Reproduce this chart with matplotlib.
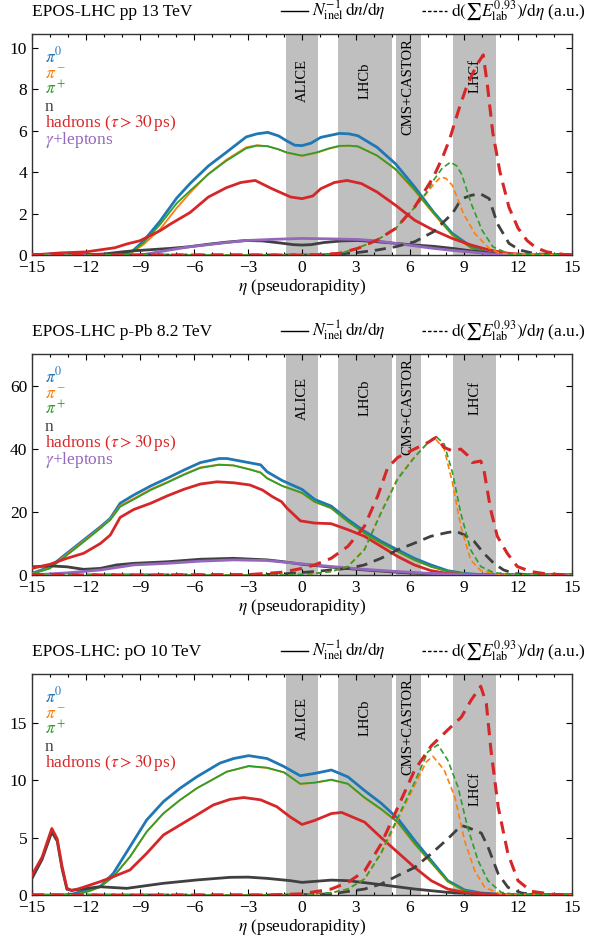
import matplotlib
matplotlib.use("Agg")
import matplotlib.pyplot as plt
from matplotlib.ticker import MultipleLocator
from matplotlib.lines import Line2D

plt.rcParams['font.family'] = ['Liberation Serif', 'DejaVu Serif']
plt.rcParams['mathtext.fontset'] = 'stix'

# ---------------- data: panel 1 (pp 13 TeV) ----------------
p1_pi0_eta = [-15, -11, -10, -9.4, -8.81, -7.89, -6.96, -6.22, -5.2, -4.2, -3.1, -2.5, -1.9, -1.3, -0.83, -0.4, 0, 0.5, 1.04, 2.08, 2.6, 3.1, 4.17, 5.2, 6.26, 7.3, 8.35, 9.4, 10.4, 11.5, 15]
p1_pi0_val = [0, 0.01, 0.03, 0.2, 0.67, 1.63, 2.75, 3.45, 4.3, 4.96, 5.7, 5.85, 5.92, 5.75, 5.5, 5.3, 5.28, 5.4, 5.68, 5.87, 5.85, 5.76, 5.2, 4.4, 3.28, 2.08, 1.04, 0.4, 0.08, 0.01, 0]
p1_pip_eta = [-15, -11, -10, -9.4, -8.81, -7.89, -6.96, -6.22, -5.2, -4.2, -3.1, -2.5, -1.9, -1.3, -0.83, 0, 0.8, 1.5, 2.08, 2.6, 3.1, 4.17, 5.2, 6.26, 7.3, 8.35, 9.4, 10.4, 11.5, 15]
p1_pip_val = [0, 0.01, 0.03, 0.18, 0.59, 1.47, 2.5, 3.1, 3.9, 4.55, 5.15, 5.28, 5.25, 5.1, 4.95, 4.8, 4.95, 5.15, 5.27, 5.28, 5.25, 4.8, 4.15, 3.15, 2.05, 1.0, 0.35, 0.08, 0.01, 0]
p1_pim_eta = [-15, -11, -10, -9.4, -8.81, -7.89, -6.96, -6.22, -5.2, -4.2, -3.1, -2.5, -1.9, -1.3, -0.83, 0, 0.8, 1.5, 2.08, 2.6, 3.1, 4.17, 5.2, 6.26, 7.3, 8.35, 9.4, 10.4, 11.5, 15]
p1_pim_val = [0, 0.01, 0.03, 0.15, 0.5, 1.24, 2.27, 3.0, 3.92, 4.6, 5.2, 5.3, 5.25, 5.1, 4.93, 4.78, 4.93, 5.13, 5.25, 5.27, 5.23, 4.8, 4.12, 3.1, 2.0, 0.95, 0.33, 0.07, 0.01, 0]
p1_n_eta = [-15, -12, -11, -10, -9.4, -8.35, -7.3, -6.26, -5.2, -4.2, -3.1, -2.2, -1.2, -0.5, 0, 0.5, 1.2, 2.2, 3.1, 4.17, 5.2, 6.26, 7.3, 8.35, 9.4, 10.4, 11.5, 15]
p1_n_val = [0, 0.01, 0.05, 0.15, 0.2, 0.26, 0.32, 0.4, 0.52, 0.62, 0.7, 0.68, 0.58, 0.5, 0.48, 0.5, 0.6, 0.68, 0.7, 0.64, 0.56, 0.48, 0.42, 0.32, 0.2, 0.1, 0.02, 0]
p1_had_eta = [-15, -13.44, -12, -11.6, -10.4, -9.74, -9.0, -7.89, -7.3, -6.22, -5.2, -4.2, -3.4, -2.6, -1.67, -0.63, 0, 0.6, 1.04, 1.8, 2.5, 3.3, 4.17, 5.2, 6.26, 7.3, 8.35, 9.4, 10.4, 11.5, 12.5, 15]
p1_had_val = [0, 0.1, 0.15, 0.2, 0.35, 0.53, 0.69, 1.17, 1.5, 2.05, 2.8, 3.25, 3.5, 3.6, 3.2, 2.8, 2.72, 2.85, 3.2, 3.5, 3.6, 3.45, 3.04, 2.4, 1.68, 1.2, 0.8, 0.48, 0.24, 0.08, 0.02, 0]
p1_gam_eta = [-15, -9.5, -8.8, -7.3, -6.22, -5.2, -4.2, -3.1, -1.5, 0, 1.5, 3.1, 4.17, 5.2, 6.26, 7.3, 8.35, 9.4, 10.5, 11.5, 15]
p1_gam_val = [0, 0.0, 0.02, 0.25, 0.4, 0.5, 0.6, 0.7, 0.76, 0.8, 0.78, 0.75, 0.68, 0.56, 0.44, 0.32, 0.22, 0.14, 0.05, 0.01, 0]
# energy-flow (dashed)
p1_E_had_eta = [-15, 0, 1, 2.08, 3.1, 4.17, 5.2, 6.26, 7.3, 7.8, 8.2, 8.7, 9.15, 9.5, 9.8, 10.07, 10.3, 10.6, 11.0, 11.5, 12.0, 12.5, 13.0, 13.6, 14.5, 15]
p1_E_had_val = [0, 0, 0.02, 0.08, 0.32, 0.72, 1.28, 2.32, 3.76, 4.7, 5.58, 7.0, 8.14, 8.8, 9.3, 9.66, 8.2, 5.9, 4.0, 2.3, 1.3, 0.7, 0.35, 0.15, 0.03, 0]
p1_E_n_eta = [-15, 1, 2.08, 3.1, 4.17, 5.2, 6.26, 7.3, 8.35, 8.87, 9.4, 9.9, 10.4, 10.85, 11.5, 12.1, 13, 15]
p1_E_n_val = [0, 0, 0.05, 0.12, 0.24, 0.4, 0.64, 1.12, 2.0, 2.72, 2.88, 2.96, 2.72, 1.52, 0.56, 0.24, 0.05, 0]
p1_E_pip_eta = [-15, 1, 2, 3, 4.17, 5.2, 6.26, 6.9, 7.3, 7.8, 8.25, 8.6, 8.87, 9.4, 10.0, 10.6, 11.5, 15]
p1_E_pip_val = [0, 0, 0.05, 0.3, 0.72, 1.28, 2.3, 3.0, 3.6, 4.2, 4.48, 4.3, 3.9, 2.48, 1.2, 0.4, 0.05, 0]
p1_E_pim_eta = [-15, 1, 2, 3, 4.17, 5.2, 6.26, 6.9, 7.3, 7.7, 8.0, 8.35, 8.97, 9.6, 10.4, 11.0, 15]
p1_E_pim_val = [0, 0, 0.05, 0.3, 0.72, 1.28, 2.3, 2.95, 3.4, 3.76, 3.7, 3.36, 2.0, 1.04, 0.32, 0.08, 0]

# ---------------- data: panel 2 (p-Pb 8.2 TeV) ----------------
p2_pi0_eta = [-15, -14, -13.06, -12.13, -11.2, -10.65, -10.1, -9.35, -8.4, -7.5, -6.57, -5.65, -4.6, -4.17, -3.24, -2.3, -1.94, -1.1, 0, 0.7, 1.62, 2.55, 3.47, 4.39, 5.31, 6.24, 7.16, 8.08, 9.0, 10, 11, 15]
p2_pi0_val = [0.5, 2.6, 6.9, 11.1, 15.3, 18, 22.8, 25.4, 28.3, 30.7, 33.3, 35.7, 37.0, 37.0, 36, 35, 32.8, 30, 27.2, 24, 21.9, 17.6, 13.9, 10.7, 8.0, 5.3, 3.2, 1.4, 0.5, 0.1, 0.02, 0]
p2_pip_eta = [-15, -14, -13.06, -12.13, -11.2, -10.65, -10.1, -9.35, -8.4, -7.5, -6.57, -5.65, -4.6, -3.8, -2.9, -2.3, -1.94, -1.1, 0, 0.7, 1.62, 2.55, 3.47, 4.39, 5.31, 6.24, 7.16, 8.08, 9.0, 10, 15]
p2_pip_val = [0.3, 2.1, 6.3, 10.5, 14.8, 17.5, 21.7, 24.0, 27.0, 29.3, 31.8, 34.0, 35.0, 34.8, 33.5, 32.5, 30.7, 28.3, 26.1, 23.3, 21.3, 17.0, 13.3, 10.2, 7.5, 4.8, 2.7, 1.2, 0.4, 0.08, 0]
p2_pim_eta = [-15, -14, -13.06, -12.13, -11.2, -10.65, -10.1, -9.35, -8.4, -7.5, -6.57, -5.65, -4.6, -3.8, -2.9, -2.3, -1.94, -1.1, 0, 0.7, 1.62, 2.55, 3.47, 4.39, 5.31, 6.24, 7.16, 8.08, 9.0, 10, 15]
p2_pim_val = [0.35, 2.3, 6.6, 10.8, 15.0, 17.8, 22.0, 24.3, 27.3, 29.5, 32.0, 34.2, 35.1, 34.8, 33.6, 32.6, 30.8, 28.3, 26.0, 23.2, 21.2, 16.9, 13.2, 10.1, 7.4, 4.7, 2.6, 1.15, 0.38, 0.08, 0]
p2_n_eta = [-15, -14, -13.06, -12.13, -11.2, -10.3, -9.35, -7.5, -5.65, -3.8, -1.94, -1.14, 0, 1.62, 3.47, 5.31, 7.16, 9.0, 10.5, 15]
p2_n_val = [2.6, 2.9, 2.6, 1.8, 2.1, 3.2, 3.7, 4.2, 5.0, 5.3, 4.8, 4.3, 3.4, 2.5, 1.6, 0.85, 0.3, 0.1, 0.02, 0]
p2_had_eta = [-15, -14, -13.06, -12.13, -11.2, -10.65, -10.1, -9.35, -8.4, -7.5, -6.57, -5.65, -4.72, -3.8, -2.9, -2.2, -1.65, -1.14, -0.83, -0.09, 0.7, 1.62, 2.55, 3.47, 4.39, 5.31, 6.24, 7.16, 8.08, 9.0, 10, 15]
p2_had_val = [2.1, 3.4, 5.3, 6.9, 10.0, 12.7, 18.3, 20.8, 22.8, 25.1, 27.2, 28.9, 29.6, 29.3, 28.6, 27.0, 24.9, 23.3, 21.2, 17.2, 16.5, 16.3, 14.4, 12.3, 9.1, 5.9, 3.2, 1.4, 0.5, 0.15, 0.03, 0]
p2_gam_eta = [-15, -13, -11.2, -9.35, -7.5, -5.65, -3.8, -1.94, -0.1, 1.62, 3.47, 5.31, 7.16, 9.0, 10.5, 15]
p2_gam_val = [0, 0.7, 1.6, 3.2, 3.7, 4.4, 4.8, 4.6, 3.6, 2.7, 1.8, 1.1, 0.5, 0.15, 0.03, 0]
p2_E_had_eta = [-15, -3, -1.14, 0, 0.7, 1.62, 2.55, 3.47, 4.2, 4.76, 5.31, 6.24, 7.0, 7.44, 7.9, 8.36, 8.82, 9.2, 9.46, 9.93, 10.1, 10.48, 10.85, 11.4, 11.96, 12.7, 13.5, 14.5, 15]
p2_E_had_val = [0, 0.1, 0.85, 2.1, 3.2, 5.3, 9.1, 15.5, 25, 34.1, 37.3, 40, 42.1, 43.7, 40.5, 39.4, 40, 38, 35.7, 36.2, 33.6, 20.8, 12.3, 6.9, 2.7, 1.1, 0.4, 0.1, 0]
p2_E_n_eta = [-15, -3, -1.14, 0.7, 2.55, 3.47, 4.39, 5.31, 6.24, 7.16, 8.08, 8.54, 9.0, 9.56, 10.1, 10.66, 11.2, 11.77, 12.5, 15]
p2_E_n_val = [0, 0.05, 0.3, 1.1, 2.1, 3.2, 5.3, 8.0, 10.1, 12.3, 13.5, 13.9, 12.8, 10.7, 6.9, 3.7, 1.6, 0.5, 0.1, 0]
p2_E_pip_eta = [-15, -1, 0, 0.7, 1.62, 2.55, 3.47, 4.39, 5.31, 6.24, 7.0, 7.44, 7.9, 8.36, 8.82, 9.37, 9.93, 10.66, 12, 15]
p2_E_pip_val = [0, 0, 0.2, 0.5, 1.1, 2.7, 8.0, 19.7, 30.4, 37.3, 42.1, 44.0, 41.6, 32.5, 19.7, 8.0, 2.7, 0.7, 0.1, 0]
p2_E_pim_eta = [-15, -1, 0, 0.7, 1.62, 2.55, 3.47, 4.39, 5.31, 6.24, 7.0, 7.34, 7.9, 8.36, 8.82, 9.37, 9.93, 11, 15]
p2_E_pim_val = [0, 0, 0.2, 0.5, 1.1, 2.7, 8.3, 20.0, 30.8, 37.5, 42.0, 43.7, 40.0, 29.3, 15.5, 4.8, 1.4, 0.2, 0]

# ---------------- data: panel 3 (pO 10 TeV) ----------------
p3_pi0_eta = [-15, -13.3, -12.7, -12.1, -11.22, -10.48, -9.56, -8.63, -7.7, -6.78, -5.85, -4.56, -3.8, -2.96, -1.94, -1.0, -0.1, 0.7, 1.63, 2.55, 3.48, 4.4, 5.33, 6.26, 7.18, 8.1, 9.03, 9.96, 11, 15]
p3_pi0_val = [0, 0, 0.1, 0.4, 0.72, 1.89, 4.2, 6.54, 8.14, 9.3, 10.3, 11.5, 11.9, 12.15, 11.9, 11.2, 10.4, 10.6, 10.9, 10.3, 9.1, 8.0, 6.65, 4.75, 3.0, 1.25, 0.44, 0.17, 0.05, 0]
p3_pip_eta = [-15, -13.0, -12.4, -11.8, -11.22, -10.48, -9.56, -8.63, -7.7, -6.78, -5.85, -4.18, -2.96, -1.94, -1.0, -0.1, 0.7, 1.63, 2.55, 3.48, 4.4, 5.33, 6.26, 7.18, 8.1, 9.03, 10, 15]
p3_pip_val = [0, 0, 0.1, 0.35, 0.7, 1.6, 3.34, 5.52, 7.12, 8.28, 9.3, 10.75, 11.25, 11.1, 10.7, 9.7, 9.8, 10.06, 9.7, 8.5, 7.5, 6.35, 4.5, 2.86, 1.2, 0.38, 0.08, 0]
p3_pim_eta = [-15, -13.0, -12.4, -11.8, -11.22, -10.48, -9.56, -8.63, -7.7, -6.78, -5.85, -4.18, -2.96, -1.94, -1.0, -0.1, 0.7, 1.63, 2.55, 3.48, 4.4, 5.33, 6.26, 7.18, 8.1, 9.03, 10, 15]
p3_pim_val = [0, 0, 0.1, 0.35, 0.7, 1.6, 3.3, 5.5, 7.1, 8.27, 9.3, 10.75, 11.22, 11.08, 10.68, 9.68, 9.78, 10.03, 9.68, 8.45, 7.45, 6.3, 4.42, 2.8, 1.15, 0.36, 0.07, 0]
p3_n_eta = [-15, -14.44, -13.9, -13.6, -13.33, -13.06, -12.8, -12.33, -11.22, -9.74, -7.7, -5.85, -4.0, -3.0, -1.94, -0.65, 0, 1.63, 2.55, 4.4, 6.26, 8.1, 10, 12, 15]
p3_n_val = [1.45, 3.1, 5.5, 4.7, 2.3, 0.5, 0.42, 0.5, 0.72, 0.58, 1.02, 1.31, 1.54, 1.56, 1.45, 1.25, 1.1, 1.3, 1.25, 0.9, 0.52, 0.23, 0.09, 0.02, 0]
p3_had_eta = [-15, -14.44, -13.9, -13.6, -13.33, -13.06, -12.8, -12.33, -11.22, -10.48, -9.56, -8.63, -7.7, -6.78, -5.85, -4.93, -4.0, -3.24, -2.3, -1.4, -0.65, 0, 0.7, 1.63, 2.2, 3.48, 4.4, 5.33, 6.26, 7.18, 8.1, 9.03, 10, 11, 15]
p3_had_val = [1.74, 3.3, 5.8, 4.9, 2.5, 0.6, 0.38, 0.58, 1.16, 1.6, 2.18, 3.63, 5.23, 6.1, 6.97, 7.85, 8.34, 8.5, 8.3, 7.7, 6.8, 6.15, 6.5, 7.1, 7.2, 6.35, 5.0, 3.7, 2.4, 1.25, 0.52, 0.23, 0.1, 0.03, 0]
p3_E_had_eta = [-15, -2, 0, 1.63, 2.55, 3.48, 4.4, 5.33, 6.26, 7.18, 8.1, 8.85, 9.4, 9.93, 10.24, 10.5, 10.9, 11.44, 12.0, 12.74, 14, 15]
p3_E_had_val = [0, 0, 0.1, 0.52, 1.1, 2.1, 4.46, 7.67, 10.9, 13.0, 14.4, 15.5, 17.0, 18.2, 16.7, 12.6, 7.67, 3.6, 1.25, 0.32, 0.05, 0]
p3_E_n_eta = [-15, -1, 0, 1.63, 3.48, 4.4, 5.33, 6.26, 7.18, 8.1, 8.85, 9.2, 9.96, 10.33, 10.9, 11.44, 12.2, 13, 15]
p3_E_n_val = [0, 0, 0.03, 0.1, 0.52, 0.96, 1.7, 2.4, 3.6, 4.9, 6.06, 5.9, 5.4, 4.2, 1.84, 0.67, 0.17, 0.03, 0]
p3_E_pip_eta = [-15, -1, 0, 1.63, 2.55, 3.48, 4.4, 5.33, 6.26, 7.0, 7.55, 8.1, 8.67, 9.2, 9.78, 10.33, 11.07, 12, 15]
p3_E_pip_val = [0, 0, 0.05, 0.2, 0.52, 1.4, 3.7, 6.8, 9.85, 12.5, 13.1, 11.75, 9.4, 5.9, 3.0, 1.25, 0.23, 0.03, 0]
p3_E_pim_eta = [-15, -1, 0, 1.63, 2.55, 3.48, 4.4, 5.33, 6.26, 6.9, 7.27, 7.9, 8.5, 9.03, 9.6, 10.15, 11, 15]
p3_E_pim_val = [0, 0, 0.05, 0.2, 0.52, 1.4, 3.6, 6.6, 9.56, 11.6, 12.1, 10.9, 8.5, 4.75, 2.1, 0.67, 0.1, 0]

# ---------------- text ----------------
titles = ["EPOS-LHC pp 13 TeV", "EPOS-LHC p-Pb 8.2 TeV", "EPOS-LHC: pO 10 TeV"]
band_names = ["ALICE", "LHCb", "CMS+CASTOR", "LHCf"]
band_lo = [-0.9, 2.0, 5.2, 8.4]
band_hi = [0.9, 5.0, 6.6, 10.8]
xlabel = r"$\eta$ (pseudorapidity)"
lab_pi0, lab_pim, lab_pip = r"$\pi^0$", r"$\pi^-$", r"$\pi^+$"
lab_n, lab_had, lab_gam = "n", r"hadrons ($\tau > 30\,$ps)", r"$\gamma$+leptons"
leg_solid = r"$N_{\rm inel}^{-1}\,{\rm d}n/{\rm d}\eta$"
leg_dash = r"${\rm d}(\sum E_{\rm lab}^{0.93})/{\rm d}\eta$ (a.u.)"

C_BLUE, C_ORANGE, C_GREEN = '#1f77b4', '#ff7f0e', '#2ca02c'
C_GRAY, C_RED, C_PURPLE = '#404040', '#d62728', '#9467bd'
BAND = '#bfbfbf'

panels = [
    dict(title=titles[0], ylim=10.67, yt=2,
         solid=[(p1_pi0_eta, p1_pi0_val, C_BLUE, 2.0), (p1_pim_eta, p1_pim_val, C_ORANGE, 1.3),
                (p1_pip_eta, p1_pip_val, C_GREEN, 1.3), (p1_n_eta, p1_n_val, C_GRAY, 2.0),
                (p1_had_eta, p1_had_val, C_RED, 2.0), (p1_gam_eta, p1_gam_val, C_PURPLE, 2.0)],
         dashed=[(p1_E_n_eta, p1_E_n_val, C_GRAY, 2.0, 'thick'), (p1_E_pim_eta, p1_E_pim_val, C_ORANGE, 1.2, 'thin'),
                 (p1_E_pip_eta, p1_E_pip_val, C_GREEN, 1.2, 'thin'), (p1_E_had_eta, p1_E_had_val, C_RED, 2.2, 'thick')],
         labels=[(lab_pi0, C_BLUE), (lab_pim, C_ORANGE), (lab_pip, C_GREEN), (lab_n, C_GRAY), (lab_had, C_RED), (lab_gam, C_PURPLE)],
         band_y=[0.79, 0.79, 0.76, 0.81]),
    dict(title=titles[1], ylim=70.2, yt=20,
         solid=[(p2_pi0_eta, p2_pi0_val, C_BLUE, 2.0), (p2_pim_eta, p2_pim_val, C_ORANGE, 1.3),
                (p2_pip_eta, p2_pip_val, C_GREEN, 1.3), (p2_n_eta, p2_n_val, C_GRAY, 2.0),
                (p2_had_eta, p2_had_val, C_RED, 2.0), (p2_gam_eta, p2_gam_val, C_PURPLE, 2.0)],
         dashed=[(p2_E_n_eta, p2_E_n_val, C_GRAY, 2.0, 'thick'), (p2_E_pim_eta, p2_E_pim_val, C_ORANGE, 1.2, 'thin'),
                 (p2_E_pip_eta, p2_E_pip_val, C_GREEN, 1.2, 'thin'), (p2_E_had_eta, p2_E_had_val, C_RED, 2.2, 'thick')],
         labels=[(lab_pi0, C_BLUE), (lab_pim, C_ORANGE), (lab_pip, C_GREEN), (lab_n, C_GRAY), (lab_had, C_RED), (lab_gam, C_PURPLE)],
         band_y=[0.80, 0.80, 0.76, 0.80]),
    dict(title=titles[2], ylim=19.27, yt=5,
         solid=[(p3_pi0_eta, p3_pi0_val, C_BLUE, 2.0), (p3_pim_eta, p3_pim_val, C_ORANGE, 1.3),
                (p3_pip_eta, p3_pip_val, C_GREEN, 1.3), (p3_n_eta, p3_n_val, C_GRAY, 2.0),
                (p3_had_eta, p3_had_val, C_RED, 2.0)],
         dashed=[(p3_E_n_eta, p3_E_n_val, C_GRAY, 2.0, 'thick'), (p3_E_pim_eta, p3_E_pim_val, C_ORANGE, 1.2, 'thin'),
                 (p3_E_pip_eta, p3_E_pip_val, C_GREEN, 1.2, 'thin'), (p3_E_had_eta, p3_E_had_val, C_RED, 2.2, 'thick')],
         labels=[(lab_pi0, C_BLUE), (lab_pim, C_ORANGE), (lab_pip, C_GREEN), (lab_n, C_GRAY), (lab_had, C_RED)],
         band_y=[0.80, 0.80, 0.76, 0.48]),
]

fig = plt.figure(figsize=(5.89, 9.43), dpi=100)
W, H = 589.0, 943.0
tops = [34, 354, 674]
ax_h = 221.0

for p, top in zip(panels, tops):
    ax = fig.add_axes([32 / W, 1 - (top + ax_h) / H, 540 / W, ax_h / H])
    for lo, hi in zip(band_lo, band_hi):
        ax.axvspan(lo, hi, color=BAND, lw=0, zorder=0)
    for (name, lo, hi, yb) in zip(band_names, band_lo, band_hi, p['band_y']):
        ax.text((lo + hi) / 2, yb, name, rotation=90, ha='center', va='center',
                fontsize=10.5, transform=ax.get_xaxis_transform(), zorder=1)
    for eta, val, c, lw in p['solid']:
        ax.plot(eta, val, color=c, lw=lw, zorder=3)
    for eta, val, c, lw, kind in p['dashed']:
        ds = (4, 2.5) if kind == 'thick' else (3.5, 2)
        ax.plot(eta, val, color=c, lw=lw, dashes=ds, zorder=4)
    ax.set_xlim(-15, 15)
    ax.set_ylim(0, p['ylim'])
    ax.xaxis.set_major_locator(MultipleLocator(3))
    ax.xaxis.set_minor_locator(MultipleLocator(1))
    ax.yaxis.set_major_locator(MultipleLocator(p['yt']))
    ax.tick_params(which='both', direction='in', top=True, right=True, labelsize=12.5, width=0.8)
    ax.tick_params(which='major', length=4)
    ax.tick_params(which='minor', length=2.5)
    for s in ax.spines.values():
        s.set_linewidth(1.0)
        s.set_color('#333333')
    ax.set_xlabel(xlabel, fontsize=12.5, labelpad=1)
    ax.text(0, 1 + 22 / ax_h, p['title'], transform=ax.transAxes, fontsize=12.5,
            ha='left', va='center')
    # colored species labels
    y0 = (256 - 62 - 34) / ax_h
    y0 = 1 - (62 - 34) / ax_h
    for i, (lab, c) in enumerate(p['labels']):
        ax.text(13 / 540, y0 - i * 16.3 / ax_h, lab, color=c, fontsize=12.5,
                transform=ax.transAxes, ha='left', va='baseline')
    # line-style legend above axes
    yl = 1 + 23 / ax_h
    ax.add_line(Line2D([249 / 540, 276 / 540], [yl, yl], color='black', lw=1.0,
                       transform=ax.transAxes, clip_on=False))
    ax.text(280 / 540, yl, leg_solid, transform=ax.transAxes, fontsize=12.5, ha='left', va='center')
    ax.add_line(Line2D([390 / 540, 415 / 540], [yl, yl], color='black', lw=1.0, dashes=(2.5, 1.5),
                       transform=ax.transAxes, clip_on=False))
    ax.text(419 / 540, yl, leg_dash, transform=ax.transAxes, fontsize=12.5, ha='left', va='center')

fig.savefig("out.png", dpi=100)
